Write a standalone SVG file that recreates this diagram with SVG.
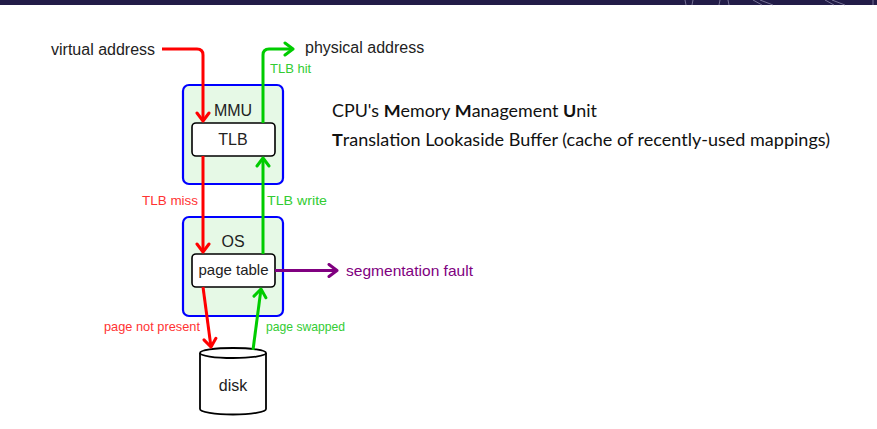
<svg xmlns="http://www.w3.org/2000/svg" width="877" height="429" viewBox="0 0 877 429">
<style>
.lbl{font-family:"Liberation Sans","DejaVu Sans",sans-serif;fill:#222;}
.big{font-size:16px;}
.sm{font-size:13px;}
.box{fill:#e6f9e6;stroke:#0000ff;stroke-width:2.2;}
.inner{fill:#fff;stroke:#000;stroke-width:1.6;}
.red{stroke:#ff0000;stroke-width:3;fill:none;marker-end:url(#ar);}
.grn{stroke:#00cc00;stroke-width:3;fill:none;marker-end:url(#ag);}
.pur{stroke:#800080;stroke-width:3;fill:none;marker-end:url(#ap);}
.side{font-family:Lato,"Open Sans",sans-serif;font-size:16.3px;fill:#111;}
.deco{stroke:#8a86a8;stroke-width:0.8;fill:none;}
</style>
<defs>
<marker id="ar" markerUnits="userSpaceOnUse" viewBox="-10 -8 12 16" refX="0" refY="0" markerWidth="12" markerHeight="16" orient="auto">
<path d="M-8,-6 Q-2,-1.5 0,0 Q-2,1.5 -8,6" fill="none" stroke="#ff0000" stroke-width="3" stroke-linecap="round" stroke-linejoin="round"/>
</marker>
<marker id="ag" markerUnits="userSpaceOnUse" viewBox="-10 -8 12 16" refX="0" refY="0" markerWidth="12" markerHeight="16" orient="auto">
<path d="M-8,-6 Q-2,-1.5 0,0 Q-2,1.5 -8,6" fill="none" stroke="#00cc00" stroke-width="3" stroke-linecap="round" stroke-linejoin="round"/>
</marker>
<marker id="ap" markerUnits="userSpaceOnUse" viewBox="-10 -8 12 16" refX="0" refY="0" markerWidth="12" markerHeight="16" orient="auto">
<path d="M-8,-6 Q-2,-1.5 0,0 Q-2,1.5 -8,6" fill="none" stroke="#800080" stroke-width="3" stroke-linecap="round" stroke-linejoin="round"/>
</marker>
</defs>
<rect x="0" y="0" width="877" height="5" fill="#221c48"/>
<g>
<path class="deco" d="M685,0 L686,5 M693,0 L692,5 M720,0 L719,5 M728,0 L729,5 M753,0 L762,5 M760,0 L773,5 M825,0 L834,5 M832,0 L845,5 M873,0 V5"/>
</g>
<g id="mmu">
<rect class="box" x="183" y="85" width="100" height="99" rx="6"/>
<text class="lbl big" x="233" y="116" text-anchor="middle">MMU</text>
</g>
<g id="tlb">
<rect class="inner" x="192" y="123" width="83" height="33" rx="4"/>
<text class="lbl big" x="233" y="145" text-anchor="middle">TLB</text>
</g>
<g id="os">
<rect class="box" x="183" y="217" width="100" height="99" rx="6"/>
<text class="lbl big" x="233" y="247" text-anchor="middle">OS</text>
</g>
<g id="pagetable">
<rect class="inner" x="192" y="254" width="83" height="33" rx="4"/>
<text class="lbl" style="font-size:15px" x="233.5" y="275" text-anchor="middle">page table</text>
</g>
<g id="disk">
<path d="M200,353 V409 A33,5.5 0 0 0 266,409 V353" fill="#fff" stroke="#000" stroke-width="1.8"/>
<ellipse cx="233" cy="353" rx="33" ry="5" fill="#fff" stroke="#000" stroke-width="1.8"/>
<text class="lbl big" x="233" y="391" text-anchor="middle">disk</text>
</g>
<g id="va">
<text class="lbl big" x="51" y="55">virtual address</text>
</g>
<g id="pa">
<text class="lbl big" x="305" y="53">physical address</text>
</g>
<g id="segfault">
<text class="lbl" style="font-size:14.5px;fill:#800080" x="346" y="276" textLength="127" lengthAdjust="spacingAndGlyphs">segmentation fault</text>
</g>
<g id="connectors">
<path class="red" d="M162,49 H197 Q203,49 203,55 V121"/>
<path class="red" d="M203,156 V252"/>
<path class="red" d="M203,287 L211,347"/>
<path class="grn" d="M253,350 L261,289"/>
<path class="grn" d="M263,254 V158"/>
<path class="grn" d="M263,123 V55 Q263,49 269,49 H293"/>
<path class="pur" d="M275,270.5 H337"/>
<text class="lbl sm" style="fill:#33cc33" x="270" y="73">TLB hit</text>
<text class="lbl sm" style="fill:#ff3333" x="142" y="205" textLength="56" lengthAdjust="spacingAndGlyphs">TLB miss</text>
<text class="lbl sm" style="fill:#33cc33" x="267" y="205" textLength="60" lengthAdjust="spacingAndGlyphs">TLB write</text>
<text class="lbl sm" style="fill:#ff3333" x="104" y="331" textLength="96" lengthAdjust="spacingAndGlyphs">page not present</text>
<text class="lbl sm" style="fill:#33cc33" x="266" y="331" textLength="79" lengthAdjust="spacingAndGlyphs">page swapped</text>
</g>
<g id="notes">
<text class="side" x="332" y="117" textLength="265" lengthAdjust="spacingAndGlyphs">CPU's <tspan font-weight="bold">M</tspan>emory <tspan font-weight="bold">M</tspan>anagement <tspan font-weight="bold">U</tspan>nit</text>
<text class="side" x="332" y="146" textLength="498" lengthAdjust="spacingAndGlyphs"><tspan font-weight="bold">T</tspan>ranslation Lookaside Buffer (cache of recently-used mappings)</text>
</g>
</svg>
